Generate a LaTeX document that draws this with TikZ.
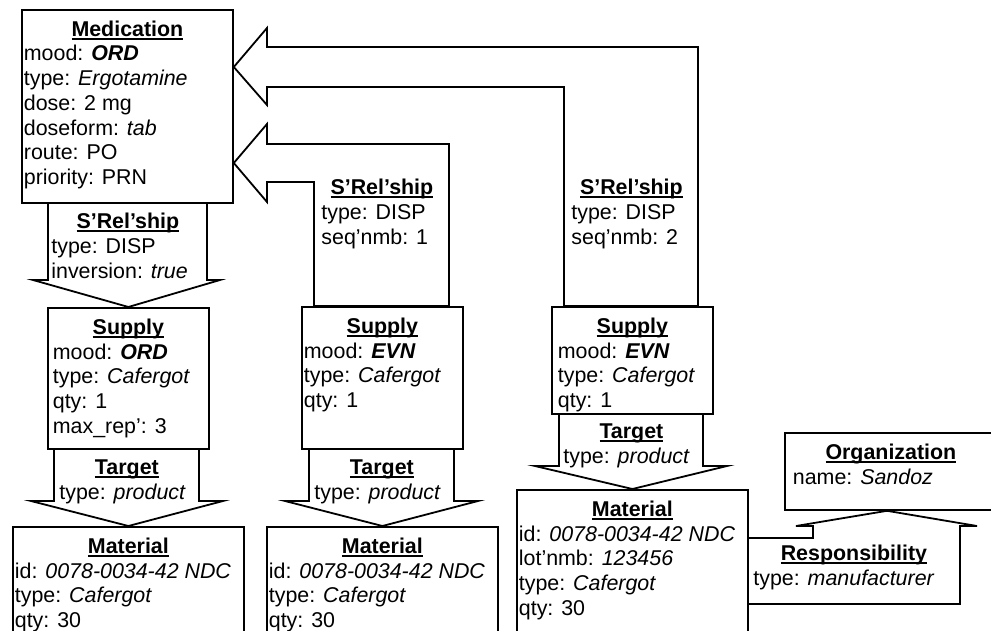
\documentclass[tikz,border=0pt]{standalone}
\usepackage{fontspec}
\setmainfont{Liberation Sans}
\usepackage{tikz}
\usetikzlibrary{calc}

\newlength{\unitpx}
\setlength{\unitpx}{0.5pt}
% bold title with a Word-like underline
\newcommand{\boxhead}[1]{\sbox0{\bfseries #1}\rlap{\rule[-1.7pt]{\wd0}{0.95pt}}\usebox0}
% [indent]{width}{height}{title}{lines}, sizes in px
\newcommand{\boxtext}[5][2]{%
  \begin{minipage}[t][#3\unitpx][t]{#2\unitpx}%
    \setlength{\parskip}{0pt}%
    \centering\rule{0pt}{13.2pt}\boxhead{#4}\par
    \raggedright\setlength{\leftskip}{#1\unitpx}%
    #5%
  \end{minipage}}

\begin{document}
\begin{tikzpicture}[x=0.5pt, y=-0.5pt,
    font=\fontsize{10.7}{12.35}\selectfont,
    entity/.style={draw, line width=0.9pt, fill=white, inner sep=0pt, anchor=north west},
    arrowtext/.style={inner sep=0pt, anchor=north west},
    blockarrow/.style={draw, line width=0.9pt, line join=miter}]

  \useasboundingbox (0,0) rectangle (991,631);
  \clip (0,0) rectangle (991,631);

  % Acts
  \node[entity] (med) at (21,9) {\boxtext{211}{193}{Medication}{%
    mood: \textbf{\textit{ORD}}\\ type: \textit{Ergotamine}\\ dose: 2 mg\\
    doseform: \textit{tab}\\ route: PO\\ priority: PRN}};
  \node[entity] (sup1) at (47,307) {\boxtext[5]{161}{141}{Supply}{%
    mood: \textbf{\textit{ORD}}\\ type: \textit{Cafergot}\\ qty: 1\\ max\_rep’: 3}};
  \node[entity] (sup2) at (301,306) {\boxtext{161}{142}{Supply}{%
    mood: \textbf{\textit{EVN}}\\ type: \textit{Cafergot}\\ qty: 1}};
  \node[entity] (sup3) at (551,306) {\boxtext[6]{161}{107}{Supply}{%
    mood: \textbf{\textit{EVN}}\\ type: \textit{Cafergot}\\ qty: 1}};

  % Entities
  \node[entity] (mat1) at (12,526) {\boxtext{231}{114}{Material}{%
    id: \textit{0078-0034-42 NDC}\\ type: \textit{Cafergot}\\ qty: 30}};
  \node[entity] (mat2) at (266,526) {\boxtext{231}{114}{Material}{%
    id: \textit{0078-0034-42 NDC}\\ type: \textit{Cafergot}\\ qty: 30}};
  \node[entity] (mat3) at (516,489) {\boxtext{231}{151}{Material}{%
    id: \textit{0078-0034-42 NDC}\\ lot’nmb: \textit{123456}\\
    type: \textit{Cafergot}\\ qty: 30}};
  \node[entity] (org) at (784,432) {\boxtext[8]{212}{77}{Organization}{%
    name: \textit{Sandoz}}};

  % Relationship arrows
  \draw[blockarrow] (48,0 |- med.south) -- (48,280) -- (33,280) -- (sup1.north)
    -- (220,280) -- (207,280) -- (207,0 |- med.south);
  \draw[blockarrow] (med.east |- 0,163) -- (267,124) -- (267,144) -- (449,144)
    -- (449,0 |- sup2.north) -- (314,0 |- sup2.north) -- (314,182) -- (267,182)
    -- (267,202) -- cycle;
  \draw[blockarrow] (med.east |- 0,67) -- (267,28) -- (267,47) -- (698,47)
    -- (698,0 |- sup3.north) -- (564,0 |- sup3.north) -- (564,87) -- (267,87)
    -- (267,105) -- cycle;

  % Participation arrows
  \draw[blockarrow] (54,0 |- sup1.south) -- (54,501) -- (31,501) -- (mat1.north)
    -- (223,501) -- (199,501) -- (199,0 |- sup1.south);
  \draw[blockarrow] (309,0 |- sup2.south) -- (309,501) -- (285,501) -- (mat2.north)
    -- (478,501) -- (454,501) -- (454,0 |- sup2.south);
  \draw[blockarrow] (559,0 |- sup3.south) -- (559,466) -- (535,466) -- (mat3.north)
    -- (727,466) -- (703,466) -- (703,0 |- sup3.south);

  % Role arrow
  \draw[blockarrow] (mat3.east |- 0,538) -- (813,538) -- (813,526) -- (796,526)
    -- (org.south -| 887,0) -- (977,526) -- (960,526) -- (960,604)
    -- (mat3.east |- 0,604);

  % Arrow labels
  \node[arrowtext] (rel0) at (48,202) {\boxtext[3]{159}{78}{S’Rel’ship}{%
    type: DISP\\ inversion: \textit{true}}};
  \node[arrowtext] (rel1) at (314,168) {\boxtext[7]{135}{60}{S’Rel’ship}{%
    type: DISP\\ seq’nmb: 1}};
  \node[arrowtext] (rel2) at (564,168) {\boxtext[7]{134}{60}{S’Rel’ship}{%
    type: DISP\\ seq’nmb: 2}};
  \node[arrowtext] (tgt1) at (54,448) {\boxtext[5]{145}{53}{Target}{%
    type: \textit{product}}};
  \node[arrowtext] (tgt2) at (309,448) {\boxtext[5]{145}{53}{Target}{%
    type: \textit{product}}};
  \node[arrowtext] (tgt3) at (559,412) {\boxtext[4]{144}{53}{Target}{%
    type: \textit{product}}};
  \node[arrowtext] (resp) at (747,534) {\boxtext[6]{213}{60}{Responsibility}{%
    type: \textit{manufacturer}}};

\end{tikzpicture}
\end{document}
